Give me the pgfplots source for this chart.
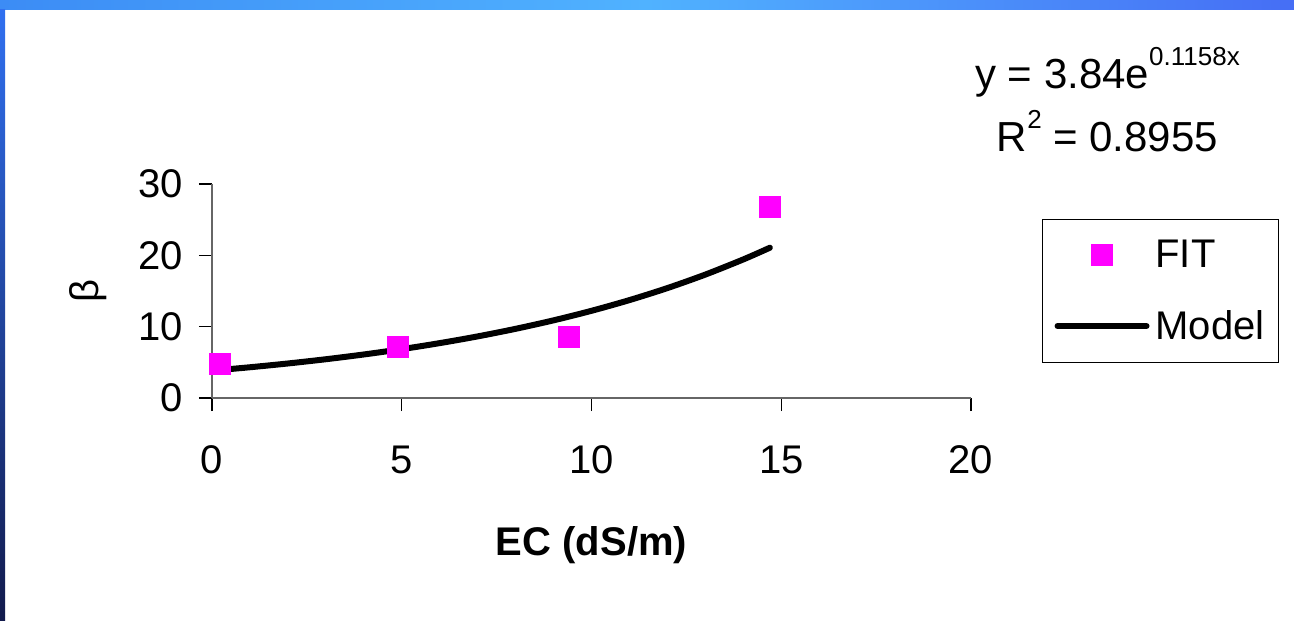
\documentclass[border=0pt]{standalone}
\usepackage{fontspec}
\setmainfont{Liberation Sans}
\usepackage{pgfplots}
\pgfplotsset{compat=1.18}

\definecolor{fitmag}{RGB}{255,0,255}
\definecolor{frameA}{RGB}{60,140,245}
\definecolor{frameB}{RGB}{80,178,255}
\definecolor{frameC}{RGB}{70,110,245}
\definecolor{sideTop}{RGB}{48,112,240}
\definecolor{sideBot}{RGB}{18,26,76}

\newcommand{\chartfont}{\fontsize{20bp}{24bp}\selectfont}
\newcommand{\eqfont}{\fontsize{21bp}{25bp}\selectfont}
\newcommand{\supx}[1]{\raisebox{11.5bp}{\fontsize{13bp}{15bp}\selectfont #1}}

% legend samples 44.5bp wide
\pgfplotsset{
  markentry/.style={legend image code/.code={\path (0bp,0bp) (44.5bp,0bp);
    \draw[##1] plot coordinates {(22bp,0bp)};}},
  lineentry/.style={legend image code/.code={\draw[##1] (0bp,0bp) -- (44.5bp,0bp);}},
}

\begin{document}
\begin{tikzpicture}
% page and slide frame
\path[use as bounding box] (0bp,0bp) rectangle (647bp,-310.5bp);
\fill[white] (0bp,0bp) rectangle (647bp,-310.5bp);
\shade[left color=frameA, right color=frameB] (0bp,0bp) rectangle (323.5bp,-4.5bp);
\shade[left color=frameB, right color=frameC] (323.5bp,0bp) rectangle (647bp,-4.5bp);
\shade[top color=sideTop, bottom color=sideBot] (0bp,-4.5bp) rectangle (2.5bp,-310.5bp);

\begin{axis}[
  at={(106bp,-199bp)}, anchor=south west,
  scale only axis, width=379.5bp, height=107bp,
  xmin=0, xmax=20, ymin=0, ymax=30,
  xtick={0,5,10,15,20}, ytick={0,10,20,30},
  axis lines=left,
  axis line style={-, draw=black!60, line width=0.7bp},
  tick style={black, line width=0.7bp},
  tick align=outside, major tick length=6.5bp,
  /pgf/number format/assume math mode=true,
  tick label style={font=\chartfont},
  xticklabel style={yshift=-14bp},
  yticklabel style={xshift=-4.5bp},
  xlabel={\textbf{EC (dS/m)}},
  xlabel style={font=\chartfont, at={(axis description cs:0.5,-0.6869)}, anchor=center},
  ylabel={β},
  ylabel style={font=\chartfont, at={(axis description cs:-0.1634,0.5)}, anchor=center},
  clip=false,
  legend style={at={(1.0936,0.8364)}, anchor=north west, draw=black, line width=0.5bp,
    font=\chartfont, inner xsep=6bp, inner ysep=9bp, row sep=18bp, column sep=2bp,
    nodes={inner sep=1bp}},
  legend cell align=left,
]
\addplot[only marks, mark=square*, mark size=5.25bp, color=fitmag,
  mark options={rounded corners=1bp}, markentry]
  coordinates {(0.2,4.8) (4.9,7.2) (9.4,8.6) (14.7,26.8)};
\addlegendentry{FIT}

\addplot[black, line width=3bp, line cap=round, line join=round, smooth, lineentry]
  coordinates {
    (0.2,3.930) (1,4.311) (2,4.841) (3,5.435) (4,6.102) (5,6.851)
    (6,7.693) (7,8.637) (8,9.698) (9,10.888) (10,12.225) (11,13.726)
    (12,15.411) (13,17.303) (14,19.427) (14.7,21.067)};
\addlegendentry{Model}
\end{axis}

% fitted equation
\node[anchor=base, font=\eqfont, inner sep=0pt] at (553.75bp,-44bp) {y = 3.84e\supx{0.1158x}};
\node[anchor=base, font=\eqfont, inner sep=0pt] at (553.75bp,-75.5bp) {R\supx{2} = 0.8955};
\end{tikzpicture}
\end{document}
